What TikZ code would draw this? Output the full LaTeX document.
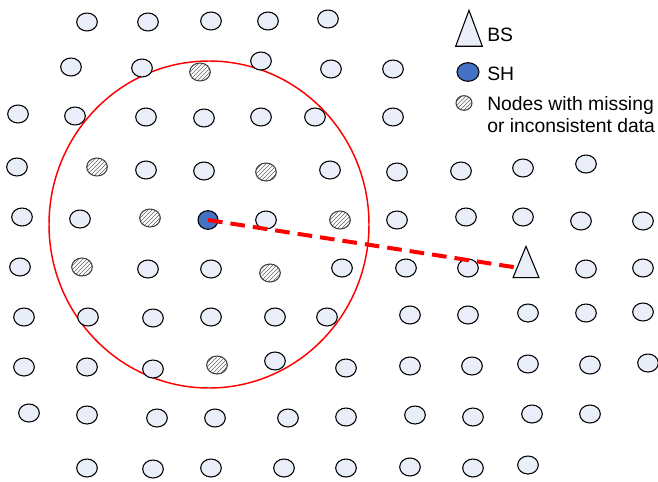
\documentclass[tikz,border=0pt]{standalone}
\usepackage{fontspec}
\setmainfont{Liberation Sans}
\usetikzlibrary{shapes.geometric,patterns}
\definecolor{nodefill}{HTML}{E9EEF8}
\definecolor{shfill}{HTML}{4472C4}
\tikzstyle{sn}=[ellipse,draw=black,line width=0.8pt,fill=nodefill,minimum width=15.5pt,minimum height=13.5pt,inner sep=0pt]
\tikzstyle{bad}=[ellipse,draw=black!75,line width=0.8pt,pattern=north east lines,pattern color=black!60,minimum width=15.5pt,minimum height=13.5pt,inner sep=0pt]
\tikzstyle{sh}=[ellipse,draw=black,line width=0.8pt,fill=shfill,minimum width=15pt,minimum height=14pt,inner sep=0pt]
\tikzstyle{bs}=[isosceles triangle,isosceles triangle stretches,shape border rotate=90,draw=black,line width=0.8pt,fill=nodefill,minimum width=19.5pt,minimum height=23.5pt,inner sep=0pt]
\tikzstyle{lbl}=[anchor=west,align=left,inner sep=0pt,font=\fontsize{14.5}{16.5}\selectfont]
\tikzstyle{link}=[red,line width=3pt,dash pattern=on 11pt off 6pt,shorten >=4pt]
\begin{document}
\begin{tikzpicture}[x=0.75pt,y=-0.75pt]
\useasboundingbox (0,0) rectangle (658,482);
\draw[red,line width=1.1pt] (209,224.5) ellipse [x radius=160,y radius=163.5];
\foreach \x/\y [count=\i] in {87/22,148/22,211/21,268/21,328/19,
  71/67,142/68,261/61,331/69,393/69,
  18/114,75/116,146/117,204/118,261/117,315/117,393/117,
  17/167,146/170,204/171,330/170,397/172,461/171,523/168,586/164,
  22/217,80/219,266/220,397/220,466/217,523/217,581/221,643/221,
  20/267,148/269,211/269,342/268,406/268,468/268,586/269,643/268,
  24/317,88/317,153/318,211/317,275/317,327/317,410/315,468/315,528/313,586/313,643/312,
  24/367,87/367,153/369,275/361,346/368,410/366,472/366,528/364,590/365,648/363,
  29/413,87/415,157/418,215/418,288/418,346/417,415/415,473/417,532/414,590/414,
  87/468,153/469,211/468,284/468,346/468,410/467,473/468,528/465}
  \node[sn] (n\i) at (\x,\y) {};
\foreach \x/\y [count=\i] in {200/72,97/167,266/172,150/218,340/220,82/267,270/273,217/365}
  \node[bad] (m\i) at (\x,\y) {};
\node[sh] (sh) at (208,220) {};
\node[bs] (bs) at (526,269) {};
\draw[link] (sh.center) -- (bs.center);
\node[bs,minimum width=20pt,minimum height=27pt] (bsleg) at (469,37) {};
\node[lbl] (bstext) at (487,35) {BS};
\node[sh,minimum width=16.5pt] (shleg) at (468,72) {};
\node[lbl] (shtext) at (487,74) {SH};
\node[bad,minimum width=12pt,minimum height=11pt] (badleg) at (464,103) {};
\node[lbl] (badtext) at (487,115) {Nodes with missing\\or inconsistent data};
\end{tikzpicture}
\end{document}
